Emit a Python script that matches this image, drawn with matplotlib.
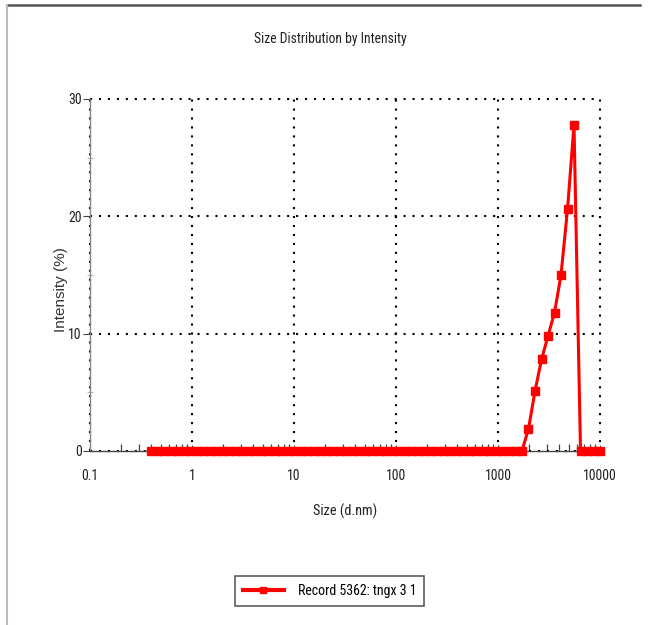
import matplotlib
matplotlib.use('Agg')
import matplotlib.pyplot as plt
from matplotlib import font_manager
from matplotlib.lines import Line2D
from matplotlib.ticker import FixedLocator, NullFormatter

# the report uses a narrow Arial-like face; take the narrowest one we have
installed = {f.name for f in font_manager.fontManager.ttflist}
wanted = ['Roboto Condensed', 'Liberation Sans Narrow', 'DejaVu Sans Condensed', 'Liberation Sans']
family = [f for f in wanted if f in installed] + ['DejaVu Sans']
plt.rcParams['font.family'] = family

# size classes (d.nm)
sizes = [0.4, 0.4632, 0.5365, 0.6213, 0.7195, 0.8332, 0.9649, 1.117, 1.294, 1.499,
         1.736, 2.010, 2.328, 2.696, 3.122, 3.615, 4.187, 4.849, 5.615, 6.503,
         7.531, 8.721, 10.10, 11.70, 13.54, 15.69, 18.17, 21.04, 24.36, 28.21,
         32.67, 37.84, 43.82, 50.75, 58.77, 68.06, 78.82, 91.28, 105.7, 122.4,
         141.8, 164.2, 190.1, 220.2, 255.0, 295.3, 342.0, 396.1, 458.7, 531.2,
         615.1, 712.4, 825.0, 955.4, 1106, 1281, 1484, 1718, 1990, 2305,
         2669, 3091, 3580, 4145, 4801, 5560, 6439, 7456, 8635, 10000]

# intensity (%)
intensity = [0, 0, 0, 0, 0, 0, 0, 0, 0, 0,
             0, 0, 0, 0, 0, 0, 0, 0, 0, 0,
             0, 0, 0, 0, 0, 0, 0, 0, 0, 0,
             0, 0, 0, 0, 0, 0, 0, 0, 0, 0,
             0, 0, 0, 0, 0, 0, 0, 0, 0, 0,
             0, 0, 0, 0, 0, 0, 0, 0, 1.9, 5.1,
             7.8, 9.8, 11.8, 15.0, 20.6, 27.8, 0, 0, 0, 0]

x_ticks = [0.1, 1, 10, 100, 1000, 10000]
x_labels = ['0.1', '1', '10', '100', '1000', '10000']
y_ticks = [0, 10, 20, 30]
record_name = 'Record 5362: tngx 3 1'

narrow = family[0] != 'Liberation Sans' and family[0] != 'DejaVu Sans'
k = 1.0 if narrow else 0.85
fs = 10 * k

fig = plt.figure(figsize=(6.5, 6.25), dpi=100)
ax = fig.add_axes([0.1385, 0.2784, 0.7846, 0.5632])

ax.plot(sizes, intensity, color='#ff0000', lw=2.2, marker='s', markersize=5.3,
        markeredgecolor='#ff0000', label=record_name, zorder=5, clip_on=False)

ax.set_xscale('log')
ax.set_xlim(0.1, 10000)
ax.set_ylim(0, 30)

ax.xaxis.set_major_locator(FixedLocator(x_ticks))
ax.set_xticklabels(x_labels)
minor_x = [m * 10.0 ** e for e in range(-1, 4) for m in range(2, 10)]
ax.xaxis.set_minor_locator(FixedLocator(minor_x))
ax.xaxis.set_minor_formatter(NullFormatter())
ax.set_yticks(y_ticks)
ax.yaxis.set_minor_locator(FixedLocator([5, 15, 25]))

ax.grid(True, which='major', color='black', linestyle=(0, (1, 3.3)), lw=1.5)
for gl in ax.get_xgridlines() + ax.get_ygridlines():
    gl.set_clip_on(False)
for s in ['top', 'right']:
    ax.spines[s].set_visible(False)
ax.spines['left'].set_color('#888888')
ax.spines['bottom'].set_color('#444444')
ax.spines['left'].set_linewidth(1.0)
ax.spines['bottom'].set_linewidth(1.0)

ax.tick_params(axis='x', which='major', direction='in', length=4, labelsize=fs, pad=13, color='#444444')
ax.tick_params(axis='x', which='minor', direction='in', length=5, width=0.9, color='#444444')
ax.tick_params(axis='y', which='major', direction='out', length=5, labelsize=fs, pad=1, color='#444444')
ax.tick_params(axis='y', which='minor', direction='inout', length=4, color='#aaaaaa')
for lab in ax.get_xticklabels() + ax.get_yticklabels():
    lab.set_color('#222222')

ax.set_xlabel('Size (d.nm)', fontsize=10.3 * k, labelpad=15, color='#222222')
# the y label is the only text that is not drawn narrow in the report
ax.set_ylabel('Intensity (%)', fontsize=11, color='#333333',
              family=['Liberation Sans', 'DejaVu Sans'])
ax.yaxis.set_label_coords(-0.044, 0.46)
fig.text(0.508, 0.938, 'Size Distribution by Intensity', ha='center', va='center',
         fontsize=9.8 * k, color='#222222')

handle = Line2D([], [], color='#ff0000', lw=3, marker='s', markersize=5)
leg = fig.legend([handle], [record_name], loc='center', bbox_to_anchor=(0.507, 0.0544),
                 frameon=True, fancybox=False, fontsize=fs, handlelength=3.0,
                 borderpad=0.55, borderaxespad=0, handletextpad=1.0)
leg.get_frame().set_edgecolor('#333333')
leg.get_frame().set_linewidth(1.2)

# outer frame of the exported report image
fig.add_artist(Line2D([0.011, 0.985], [0.992, 0.992], transform=fig.transFigure,
                      color='#555555', lw=1.8))
fig.add_artist(Line2D([0.011, 0.011], [0.0, 0.992], transform=fig.transFigure,
                      color='#bbbbbb', lw=1.5))

fig.savefig('out.png', dpi=100)
